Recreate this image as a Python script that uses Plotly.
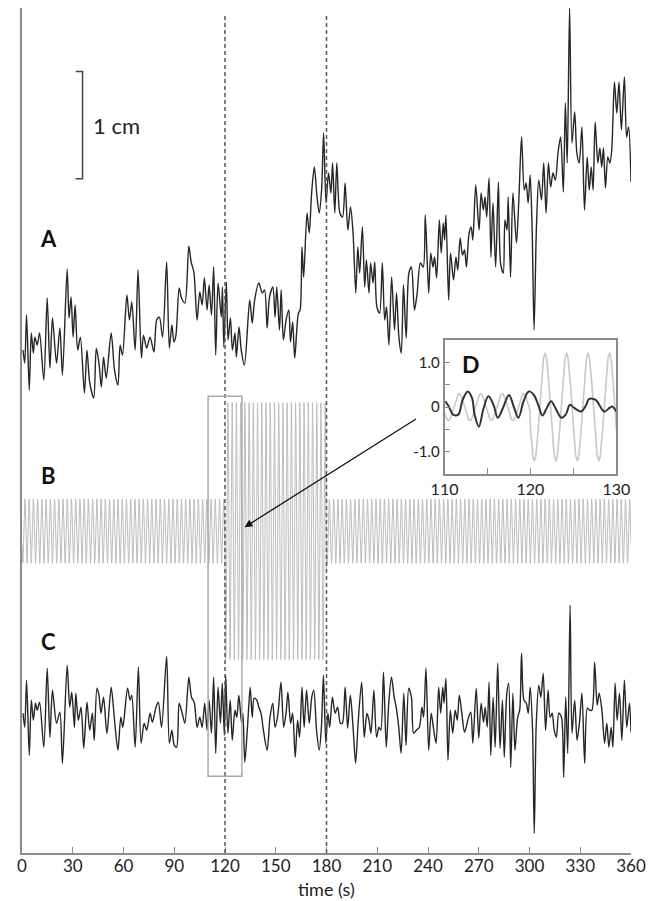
import numpy as np
import plotly.graph_objects as go

# ---------------- data ----------------
PX_PER_CM = 107.0  # reading scale: the 1 cm bar spans ~107 px

# Trace A: time (s) and displacement (1/107 cm units, relative to trace baseline)
A_TIME = [0.6, 1.6, 2.7, 4.3, 5.5, 6.7, 7.6, 9.0, 10.4, 12.9, 14.9, 16.5, 18.0, 20.4, 22.4, 23.9,
          26.7, 27.8, 29.0, 30.2, 31.4, 32.9, 34.5, 36.9, 38.4, 40.0, 42.4, 43.9, 45.5, 46.9, 48.2,
          49.8, 52.7, 54.7, 56.7, 58.0, 59.4, 62.0, 63.5, 64.9, 66.9, 68.6, 70.6, 71.8, 73.7, 75.7,
          78.0, 79.6, 81.2, 83.1, 85.5, 87.1, 88.6, 89.8, 91.0, 92.9, 94.3, 96.3, 98.6, 100.0, 101.6,
          103.5, 105.1, 106.5, 107.8, 109.4, 110.6, 112.0, 113.3, 114.5, 115.9, 117.8,
          118.5, 119.3, 120.8, 121.8, 123.2, 124.4, 125.9, 126.7, 128.3, 129.6, 131.5, 134.6, 136.1,
          137.5, 140.0, 142.0, 143.4, 144.9, 146.3, 148.3, 149.6, 150.6, 152.2, 153.2, 154.5, 156.1,
          157.7, 158.7, 160.0, 161.2, 163.4, 164.4, 165.5, 166.5, 168.5, 169.8, 171.2, 172.8, 174.4,
          175.7, 177.1, 178.3, 179.7, 181.2, 182.6, 183.6, 184.9, 186.1, 187.9, 189.5, 191.0, 192.6,
          194.2, 195.7, 197.3, 198.5, 199.6, 201.2, 202.6, 203.6, 205.1, 206.1, 207.5, 208.5, 209.8,
          211.4, 213.0, 214.4, 215.5, 216.9, 218.5, 220.2, 221.4, 222.8, 224.2, 225.5, 227.1, 228.7,
          230.2, 232.0, 233.6, 235.5,
          237.2, 238.4, 240.4, 241.6, 242.9, 243.9, 245.1, 246.7, 247.8, 249.0, 249.8, 250.6, 252.2,
          253.3, 255.1, 256.5, 257.6, 259.0, 260.4, 261.6, 262.7, 264.3, 265.5, 266.5, 268.2, 270.2,
          271.4, 272.7, 273.7, 274.7, 276.1, 277.2, 278.4, 280.0, 281.6, 282.9, 284.5, 285.5, 286.7,
          287.4, 288.8, 290.2, 292.3, 293.7, 295.3, 296.9, 298.0, 299.2, 300.4, 301.6, 302.7, 304.1,
          305.5, 307.1, 308.4, 309.8, 311.2, 312.5, 313.9, 315.3, 316.9, 318.4, 320.0, 321.2, 322.3,
          323.7, 325.1, 326.7, 328.0, 329.4, 331.0, 332.5, 334.1, 335.3, 336.5, 337.6, 338.8, 340.4,
          341.6, 342.7, 343.7, 344.9, 346.3, 347.5, 348.6, 350.2, 351.6, 352.9, 354.3, 356.1, 357.4,
          358.6, 360.0]
A_DISP = [-5, -18, 30, -45, 12, -8, 8, 0, 12, -35, 47, -23, 27, -18, 17, -30,
          76, 27, 48, 8, 40, -5, 8, -48, -5, -37, -53, -3, -18, -42, -12,
          -33, 12, -25, -40, 0, -10, 50, 25, 43, -5, 75, -13, 10, -3, 8,
          -7, 25, 28, 8, 83, -3, 20, 3, 10, 57, 47, 42, 99, 83, 73,
          25, 53, 40, 67, 35, 60, 30, 78, -10, 62, 28,
          58, -2, 63, 5, 27, -5, 12, -12, 18, -5, -20, 45, 22,
          45, 62, 52, 55, 17, 48, 58, 28, 58, 15, 55, 5, 25,
          35, 3, 23, -13, 32, 35, 98, 68, 132, 112, 152, 178, 148,
          132, 155, 212, 142, 172, 152, 182, 132, 182, 132, 128, 162, 115,
          138, 112, 52, 98, 72, 118, 58, 85, 52, 82, 62, 83, 38,
          32, 82, 25, 38, 0, 68, 15, 52, 8, -8, 60, 7, 72,
          78, 35, 52, 82,
          78, 130, 52, 92, 78, 88, 67, 125, 92, 122, 105, 130, 45,
          92, 65, 88, 75, 107, 90, 95, 78, 112, 118, 105, 160, 115,
          152, 135, 148, 128, 167, 88, 142, 78, 163, 82, 72, 125, 115,
          148, 68, 152, 102, 145, 208, 155, 162, 142, 170, 112, 15, 118,
          165, 145, 182, 132, 182, 158, 172, 165, 193, 208, 153, 242, 182,
          337, 202, 233, 192, 182, 218, 135, 188, 155, 178, 155, 223, 182,
          197, 178, 197, 157, 188, 182, 195, 263, 232, 263, 215, 268, 208,
          218, 163]

# Trace C: time (s) and displacement (1/107 cm units)
C_TIME = [0.6, 1.6, 2.7, 4.3, 5.5, 6.7, 8.0, 9.0, 10.4, 12.9, 14.9, 16.5, 18.0, 20.4, 22.4, 23.9,
          26.7, 28.2, 29.4, 31.0, 31.8, 33.3, 34.9, 36.5, 38.4, 40.0, 41.6, 42.7, 44.3, 45.5, 46.7,
          48.2, 50.2, 52.7, 54.7, 56.7, 58.4, 59.6, 62.4, 63.9, 64.9, 66.9, 68.8, 70.4, 72.2, 73.7,
          75.7, 77.1, 79.2, 80.6, 82.5, 85.5, 87.1, 88.6, 90.0, 91.4, 92.9, 94.7, 96.3, 98.6, 100.2,
          101.8, 103.5, 105.1, 106.5, 108.0, 109.4, 110.6, 112.0, 113.3, 114.5, 115.9, 117.3, 118.4,
          119.6,
          120.4, 121.7, 123.1, 124.3, 125.9, 127.0, 128.2, 129.8, 130.6, 131.7, 133.3, 134.9, 136.1,
          137.2, 138.8, 140.0, 141.3, 142.7, 144.9, 146.6, 148.2, 149.6, 151.2, 153.1, 154.7, 156.1,
          157.2, 158.8, 160.0, 161.5, 162.9, 164.1, 165.5, 166.8, 168.2, 169.8, 171.3, 172.5, 174.1,
          175.7, 177.0, 178.2, 179.6, 180.8, 181.9, 183.5, 185.1, 186.6, 188.2, 189.4, 191.0, 192.5,
          194.1, 195.7, 197.2, 198.8, 200.8, 202.3, 203.9, 205.1, 206.3, 208.0, 209.6, 211.0, 212.1,
          213.7, 215.3, 216.8, 218.4, 220.0, 221.2, 222.7, 224.1, 225.7, 227.0, 228.6, 230.2, 231.5,
          233.1, 234.9, 236.4, 237.4, 238.8, 240.4, 241.9,
          243.4, 244.8, 246.3, 247.5, 248.7, 249.5, 250.6, 251.8, 253.2, 254.6, 256.1, 257.3, 258.5,
          260.0, 261.6, 264.0, 265.3, 266.5, 268.5, 270.0, 271.4, 272.8, 273.8, 275.0, 276.1, 277.1,
          278.5, 279.7, 281.2, 282.6, 284.0, 285.1, 286.5, 287.7, 288.9, 290.2, 291.4, 293.0, 294.2,
          295.3, 296.7, 298.1, 299.3, 300.4, 301.8, 302.8, 304.0, 305.5, 306.7, 308.1, 309.5, 311.0,
          312.2, 313.4, 314.6, 315.9, 317.3, 318.9, 320.2, 321.4, 322.6, 324.0, 325.1, 326.7, 328.1,
          329.5, 331.0, 332.6, 334.2, 335.5, 336.9, 338.5, 340.0, 341.2, 342.8, 344.4, 345.7, 346.9,
          348.3, 349.3, 350.6, 351.8, 353.2, 354.6, 356.1, 357.5, 359.1, 360.0]
C_DISP = [-23, -37, 10, -65, -10, -30, -13, -20, -12, -57, 22, -47, 0, -33, -22, -73,
          25, -17, -2, -37, -3, -30, -17, -58, -12, -40, -23, -50, 2, -5, -23,
          -7, -43, 3, -30, -60, -27, -37, 2, -10, -5, -57, 23, -53, -33, -40,
          -23, -32, -17, -12, -37, 34, -53, -40, -55, -57, -13, -23, -33, 13, -7,
          -12, -37, -27, -37, -13, -40, -10, -43, 13, -63, 3, -33, 7,
          -45,
          15, -43, -10, -50, -20, -27, -5, -33, -23, -72, -37, 3, -27,
          -8, -10, -17, -23, -40, -60, -27, -13, -37, -25, 8, -37, -23,
          -2, -33, -23, -67, -30, -47, 3, -37, 0, -33, -7, 0, -40,
          -60, -37, 15, -53, -23, -37, -7, -23, -17, -33, -33, 3, -38,
          -5, -37, -73, -30, 8, -47, -23, -30, -43, 0, -47, -37, -40,
          18, -57, -13, 13, -7, -17, -37, -63, -3, -55, 2, -7, -43,
          -40, -37, -17, -27, 22, -60, -23,
          -40, -53, 3, -23, 3, -13, 12, -70, -20, -43, -20, -30, -5,
          -23, -42, -27, -22, -53, 2, -48, -13, -32, -17, -37, 8, -65,
          -7, -57, 27, -58, -10, -67, -5, 7, -77, -3, -60, -27, -20,
          37, -10, -13, -23, 3, -40, -143, -33, 5, -7, 17, -40, 0,
          -27, -23, -40, -47, -23, -27, -87, -7, -63, 85, -43, -10, -50,
          -33, -3, -73, -18, -20, -20, 28, -15, -3, -20, -53, -33, -57,
          -37, -57, 7, -30, -3, -50, 10, -37, -13, -42]

# Trace B (stimulus): piecewise-constant amplitude sinusoid, parameters
B_EDGES_S = [0, 120, 180, 360]
B_AMP_CM = [0.3, 1.2, 0.3]
B_PERIOD_S = 2.5
B_PEAK_S = 121.7

# Inset D: black trace (cm) on 110-130 s
D_TIME = [110.1, 110.5, 111.0, 111.6, 112.1, 112.7, 113.2, 113.5, 114.0, 114.5, 115.1, 115.7,
          116.2, 116.8, 117.5, 118.1, 118.6, 119.2, 119.8, 120.4, 120.9, 121.4, 121.8, 122.4,
          123.0, 123.6, 124.1, 124.6, 125.1, 125.9, 126.5, 126.8, 127.6, 128.0, 128.6, 129.2,
          129.5, 130.0]
D_DISP = [0.13, 0.01, -0.17, -0.17, 0.16, 0.35, 0.20, -0.17, -0.44, -0.06, 0.24, 0.05,
          -0.24, -0.02, 0.27, -0.02, -0.24, 0.13, 0.35, 0.27, 0.05, -0.19, -0.06, 0.13,
          -0.06, -0.24, -0.17, 0.05, -0.02, -0.10, 0.05, 0.18, 0.16, 0.05, -0.10, -0.02,
          0.01, -0.10]

TIME_TICKS = list(range(0, 361, 30))
DASH_TIMES = [120, 180]
ZOOM_WINDOW = [110, 130]
SCALE_BAR_CM = 1.0
TRACE_LABELS = ["A", "B", "C"]

# ---------------- layout constants ----------------
A_OFFSET = 4.745
B_OFFSET = 3.007
C_OFFSET = 1.521
Y_TOP = 7.894

FONT = "Lato, 'Open Sans', sans-serif"
AXIS_GRAY = "#8c8c8c"
TRACE_COLOR = "#262626"

# build B
tb = np.arange(0, 360.0001, 0.05)
amp = np.zeros_like(tb)
for i in range(len(B_AMP_CM)):
    lo, hi = B_EDGES_S[i], B_EDGES_S[i + 1]
    mask = (tb >= lo) & (tb <= hi) if i == len(B_AMP_CM) - 1 else (tb >= lo) & (tb < hi)
    amp[mask] = B_AMP_CM[i]
b_vals = amp * np.cos(2 * np.pi * (tb - B_PEAK_S) / B_PERIOD_S)

a_cm = np.array(A_DISP) / PX_PER_CM
c_cm = np.array(C_DISP) / PX_PER_CM

fig = go.Figure()

fig.add_trace(go.Scatter(x=tb, y=b_vals + B_OFFSET, mode="lines",
                         line=dict(color="#bdbdbd", width=1), hoverinfo="skip"))
fig.add_trace(go.Scatter(x=C_TIME, y=c_cm + C_OFFSET, mode="lines",
                         line=dict(color=TRACE_COLOR, width=1.4, shape="spline", smoothing=0.8)))
fig.add_trace(go.Scatter(x=A_TIME, y=a_cm + A_OFFSET, mode="lines",
                         line=dict(color=TRACE_COLOR, width=1.4, shape="spline", smoothing=0.8)))

# scale bar (1 cm)
sb_top = 7.30
sb_bot = sb_top - SCALE_BAR_CM
fig.add_trace(go.Scatter(x=[31.7, 35.8, 35.8, 31.7], y=[sb_top, sb_top, sb_bot, sb_bot],
                         mode="lines", line=dict(color="#444444", width=1.5)))

# inset traces
win = (tb >= ZOOM_WINDOW[0]) & (tb <= ZOOM_WINDOW[1])
fig.add_trace(go.Scatter(x=tb[win], y=b_vals[win], mode="lines", xaxis="x2", yaxis="y2",
                         line=dict(color="#c8c8c8", width=1.6)))
fig.add_trace(go.Scatter(x=D_TIME, y=D_DISP, mode="lines", xaxis="x2", yaxis="y2",
                         line=dict(color="#333333", width=2, shape="spline")))

shapes = []
for t in DASH_TIMES:
    shapes.append(dict(type="line", xref="x", yref="paper", x0=t, x1=t, y0=0, y1=0.9937,
                       line=dict(color="#555555", width=1.5, dash="4px,3px")))
shapes.append(dict(type="rect", xref="x", yref="y", x0=ZOOM_WINDOW[0], x1=ZOOM_WINDOW[1],
                   y0=0.717, y1=4.268, line=dict(color="#aaaaaa", width=1.5)))

annotations = [
    dict(x=40.5, y=(sb_top + sb_bot) / 2, xref="x", yref="y", text="1 cm", showarrow=False,
         xanchor="left", yanchor="middle", font=dict(size=22, color="#222222", family=FONT)),
    dict(x=180, y=-0.0425, xref="x", yref="paper", text="time (s)", showarrow=False,
         xanchor="center", yanchor="middle", font=dict(size=18, color="#222222", family=FONT)),
    dict(x=131.6, y=3.044, xref="x", yref="y", ax=233.8, ay=4.063, axref="x", ayref="y",
         text="", showarrow=True, arrowhead=2, arrowsize=1.2, arrowwidth=1.3, arrowcolor="#111111"),
    dict(x=113.1, y=0.97, xref="x2", yref="y2", text="<b>D</b>", showarrow=False,
         xanchor="center", yanchor="middle", font=dict(size=23, color="#111111", family=FONT)),
]
label_pos = [(15.9, 5.745), (15.6, 3.525), (15.9, 1.978)]
for lab, (lx, ly) in zip(TRACE_LABELS, label_pos):
    annotations.append(dict(x=lx, y=ly, xref="x", yref="y", text="<b>%s</b>" % lab, showarrow=False,
                            xanchor="center", yanchor="middle",
                            font=dict(size=22, color="#111111", family=FONT)))

fig.update_layout(
    width=654, height=901,
    margin=dict(l=19, r=22, t=8, b=48),
    paper_bgcolor="white", plot_bgcolor="white",
    showlegend=False,
    font=dict(family=FONT, color="#222222"),
    xaxis=dict(range=[0, 360], tickvals=TIME_TICKS, showline=True, linecolor=AXIS_GRAY,
               linewidth=1.5, ticks="inside", ticklen=6, tickcolor=AXIS_GRAY, tickwidth=1.2,
               ticklabelstandoff=-3,
               showgrid=False, zeroline=False, tickfont=dict(size=17, color="#222222", family=FONT),
               anchor="y"),
    yaxis=dict(range=[0, Y_TOP], showline=True, linecolor=AXIS_GRAY, linewidth=1.5,
               showticklabels=False, ticks="", showgrid=False, zeroline=False),
    xaxis2=dict(domain=[0.6938, 0.976], range=ZOOM_WINDOW, anchor="y2", showline=True,
                mirror=True, linecolor=AXIS_GRAY, linewidth=1.5, ticks="inside", ticklen=6,
                tickcolor=AXIS_GRAY, tickvals=[110, 115, 120, 125, 130],
                ticktext=["110", "", "120", "", "130"], showgrid=False, zeroline=False,
                tickfont=dict(size=16, color="#222222", family=FONT)),
    yaxis2=dict(domain=[0.4485, 0.607], range=[-1.5, 1.5], anchor="x2", showline=True,
                mirror=True, linecolor=AXIS_GRAY, linewidth=1.5, ticks="inside", ticklen=6,
                tickcolor=AXIS_GRAY, tickvals=[-1, -0.5, 0, 0.5, 1],
                ticktext=["-1.0", "", "0", "", "1.0"], showgrid=False, zeroline=False,
                tickfont=dict(size=15, color="#222222", family=FONT)),
    shapes=shapes,
    annotations=annotations,
)

fig.write_html("out.html", config={"displayModeBar": False},
               post_script="document.body.style.margin='0';document.body.style.padding='0';")
